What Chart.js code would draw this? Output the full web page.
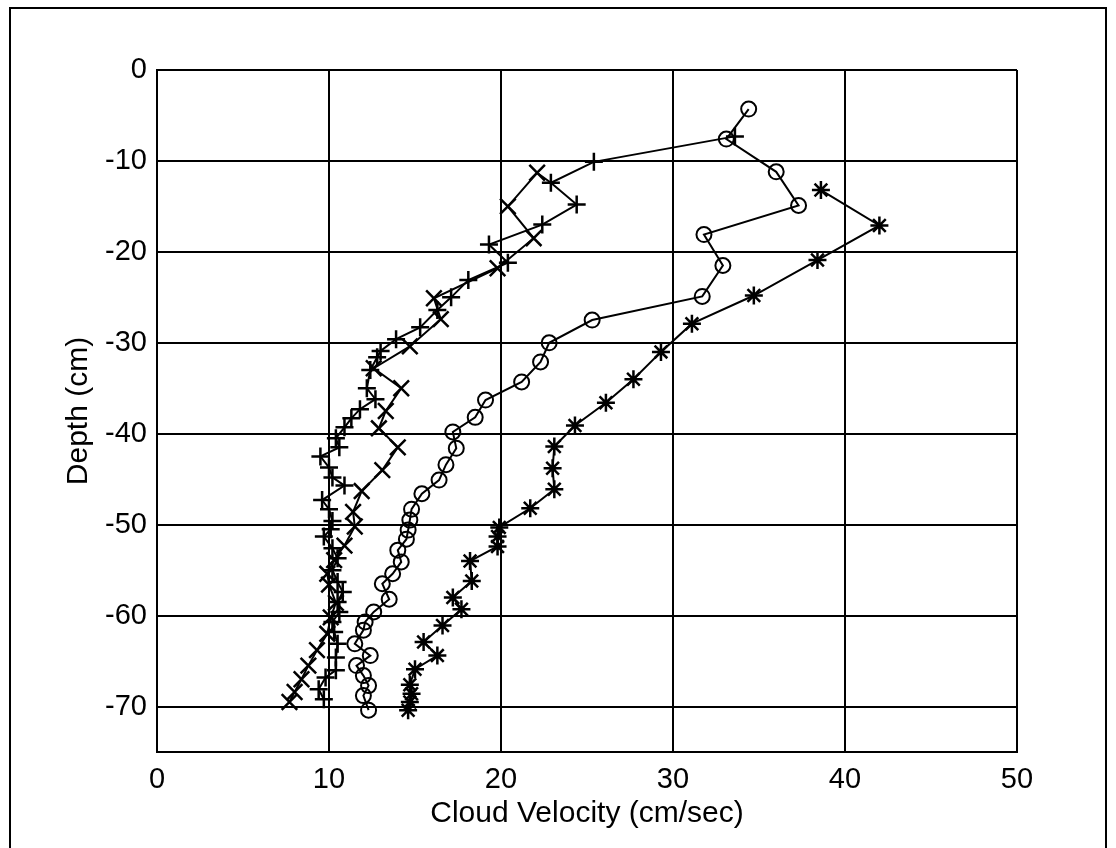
<!DOCTYPE html>
<html>
<head>
<meta charset="utf-8">
<script src="https://cdn.jsdelivr.net/npm/chart.js@4"></script>
<style>
    body { margin: 0; background: #fff; }
    #frame {
        position: absolute; left: 9px; top: 7px; width: 1094px; height: 860px;
        border: 2px solid #000; border-bottom: none;
    }
    #chart { position: absolute; left: 0; top: 0; }
</style>
</head>
<body>
<div id="frame"></div>
<canvas id="chart" width="1116" height="848"></canvas>
<script>
const xTicks = [0, 10, 20, 30, 40, 50];
const yTicks = [0, -10, -20, -30, -40, -50, -60, -70];

// circle series
const circleVel = [34.4, 33.1, 36.0, 37.3, 31.8, 32.9, 31.7, 25.3, 22.8, 22.3, 21.2, 19.1, 18.5, 17.2, 17.4, 16.8, 16.4,
    15.4, 14.8, 14.7, 14.6, 14.5, 14.0, 14.2, 13.7, 13.1, 13.5, 12.6, 12.1, 12.0, 11.5, 12.4, 11.6, 12.0, 12.3, 12.0, 12.3];
const circleDepth = [-4.3, -7.6, -11.2, -14.9, -18.1, -21.5, -24.9, -27.5, -30.0, -32.1, -34.3, -36.3, -38.2, -39.8, -41.6, -43.4, -45.1,
    -46.6, -48.3, -49.5, -50.6, -51.6, -52.8, -54.1, -55.4, -56.5, -58.2, -59.6, -60.7, -61.6, -63.1, -64.4, -65.5, -66.6, -67.7, -68.8, -70.4];

// asterisk series
const starVel = [38.6, 42.0, 38.4, 34.7, 31.1, 29.3, 27.7, 26.1, 24.3, 23.1, 23.0, 23.1, 21.7, 19.9, 19.8, 19.8,
    18.2, 18.3, 17.2, 17.7, 16.6, 15.5, 16.3, 15.0, 14.7, 14.8, 14.7, 14.6];
const starDepth = [-13.2, -17.1, -20.9, -24.8, -27.9, -31.0, -34.0, -36.6, -39.1, -41.4, -43.8, -46.1, -48.2, -50.3, -51.3, -52.4,
    -54.0, -56.2, -58.0, -59.3, -61.1, -62.9, -64.4, -65.9, -67.6, -68.6, -69.5, -70.4];

// plus series
const plusVel = [33.6, 25.4, 22.9, 24.4, 22.4, 19.3, 20.4, 18.1, 17.1, 16.3, 15.3, 13.9, 13.0, 12.8, 12.4, 12.2, 12.7, 11.8, 11.3, 10.9,
    10.4, 10.6, 9.5, 10.0, 10.2, 10.9, 9.6, 10.0, 10.2, 10.1, 9.7, 10.2, 10.5, 10.2, 10.5, 10.8, 10.5, 10.6, 10.2, 10.3,
    10.5, 10.4, 10.4, 9.8, 9.4, 9.7];
const plusDepth = [-7.3, -10.1, -12.4, -14.8, -17.0, -19.2, -21.2, -23.1, -25.0, -26.4, -28.3, -29.6, -30.9, -31.6, -33.0, -35.0, -36.2, -37.3, -38.3, -39.3,
    -40.5, -41.5, -42.5, -43.7, -44.8, -45.7, -47.3, -48.3, -49.6, -50.5, -51.3, -52.6, -53.7, -55.0, -56.3, -57.4, -58.5, -59.6, -60.7, -61.8,
    -63.1, -64.6, -66.0, -66.8, -68.1, -69.2];

// x series (first point sits on the plus line, no marker)
const crossVel = [22.9, 22.1, 20.4, 21.9, 19.8, 16.1, 16.5, 14.7, 12.6, 14.2, 13.3, 12.9, 14.0, 13.1, 11.9, 11.4, 11.5, 10.9, 10.3, 9.9,
    10.0, 10.4, 10.1, 9.9, 9.3, 8.8, 8.4, 8.0, 7.7];
const crossDepth = [-12.4, -11.3, -15.0, -18.5, -21.8, -25.1, -27.4, -30.4, -32.8, -35.0, -37.5, -39.4, -41.5, -44.0, -46.3, -48.6, -50.2, -52.3, -53.9, -55.4,
    -56.6, -58.6, -60.2, -62.0, -63.8, -65.5, -67.0, -68.4, -69.5];

const FONT = "'Liberation Sans', Arial, sans-serif";

function toPoints(xs, ys) {
    return xs.map((x, i) => ({ x: x, y: ys[i] }));
}

function series(xs, ys, style, radius, markWidth) {
    return {
        data: toPoints(xs, ys),
        showLine: true,
        borderColor: '#000',
        borderWidth: 2,
        pointStyle: style,
        pointRadius: radius,
        pointBorderColor: '#000',
        pointBorderWidth: markWidth,
        pointBackgroundColor: 'rgba(0,0,0,0)',
        tension: 0
    };
}

const crossRadius = crossVel.map((v, i) => i === 0 ? 0 : 11);

const ctx = document.getElementById('chart').getContext('2d');
new Chart(ctx, {
    type: 'scatter',
    data: {
        datasets: [
            series(circleVel, circleDepth, 'circle', 7.5, 2),
            series(starVel, starDepth, 'star', 9, 2.5),
            series(plusVel, plusDepth, 'cross', 9, 2.5),
            series(crossVel, crossDepth, 'crossRot', crossRadius, 2.5)
        ]
    },
    options: {
        responsive: false,
        animation: false,
        devicePixelRatio: 1,
        layout: { padding: { top: 70, right: 99, bottom: 0, left: 0 } },
        plugins: { legend: { display: false }, tooltip: { enabled: false } },
        scales: {
            x: {
                type: 'linear',
                min: 0,
                max: 50,
                afterBuildTicks: s => { s.ticks = xTicks.map(v => ({ value: v })); },
                afterFit: s => { s.height = 96; },
                grid: { color: '#000', lineWidth: 2, drawTicks: false },
                border: { color: '#000', width: 2 },
                ticks: { color: '#000', padding: 11, font: { family: FONT, size: 29 } },
                title: {
                    display: true,
                    text: 'Cloud Velocity (cm/sec)',
                    color: '#000',
                    font: { family: FONT, size: 30 },
                    padding: { top: 0, bottom: 16 }
                }
            },
            y: {
                type: 'linear',
                min: -75,
                max: 0,
                afterBuildTicks: s => { s.ticks = yTicks.map(v => ({ value: v })); },
                afterFit: s => { s.width = 157; },
                grid: { color: '#000', lineWidth: 2, drawTicks: false },
                border: { color: '#000', width: 2 },
                ticks: { color: '#000', padding: 10, font: { family: FONT, size: 29 } },
                title: {
                    display: true,
                    text: 'Depth (cm)',
                    color: '#000',
                    font: { family: FONT, size: 30 },
                    padding: { top: 61, bottom: 0 }
                }
            }
        }
    }
});
</script>
</body>
</html>
